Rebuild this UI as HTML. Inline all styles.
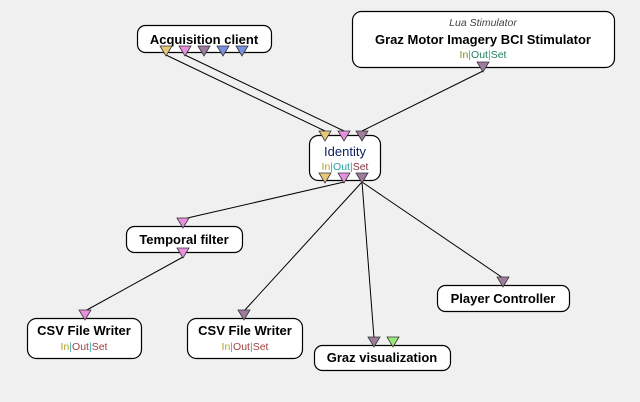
<!DOCTYPE html>
<html><head><meta charset="utf-8"><style>
html,body{margin:0;padding:0;background:#f0f0f0;}
svg{display:block;font-family:"Liberation Sans",sans-serif;}
.t{font-weight:bold;font-size:13px;fill:#000;text-anchor:middle;}
.s{font-size:10.5px;text-anchor:middle;}
</style></head><body>
<svg width="640" height="402" viewBox="0 0 640 402">
<rect width="640" height="402" fill="#f0f0f0"/>
<g stroke="#000" stroke-width="1" fill="none">
<line x1="166" y1="55" x2="325" y2="131"/>
<line x1="185" y1="55" x2="344" y2="131"/>
<line x1="483" y1="71" x2="362" y2="131"/>
<line x1="344" y1="182" x2="183" y2="219"/>
<line x1="362" y1="182" x2="244" y2="311"/>
<line x1="362" y1="182" x2="374" y2="338"/>
<line x1="362" y1="182" x2="503" y2="278"/>
<line x1="183" y1="257" x2="85" y2="311"/>
</g>
<g fill="#fff" stroke="#000" stroke-width="1.2">
<rect x="137.5" y="25.5" width="134" height="27" rx="8"/>
<rect x="352.5" y="11.5" width="262" height="56" rx="9"/>
<rect x="309.5" y="135.5" width="71" height="45" rx="9"/>
<rect x="126.5" y="226.5" width="116" height="26" rx="8"/>
<rect x="27.5" y="318.5" width="114" height="40" rx="9"/>
<rect x="187.5" y="318.5" width="115" height="40" rx="9"/>
<rect x="314.5" y="345.5" width="136" height="25" rx="8"/>
<rect x="437.5" y="285.5" width="132" height="26" rx="8"/>
</g>
<text class="t" x="204" y="44">Acquisition client</text>
<text x="483" y="26" style="font-size:10.5px;font-style:italic;text-anchor:middle;fill:#444">Lua Stimulator</text>
<text class="t" x="483" y="44">Graz Motor Imagery BCI Stimulator</text>
<text class="s" x="483" y="58"><tspan fill="#8a8a20">In</tspan><tspan fill="#3aa">|</tspan><tspan fill="#208060">Out</tspan><tspan fill="#3aa">|</tspan><tspan fill="#208060">Set</tspan></text>
<text x="345" y="156" style="font-size:13px;text-anchor:middle;fill:#102060">Identity</text>
<text class="s" x="345" y="170"><tspan fill="#b0a020">In</tspan><tspan fill="#3aa">|</tspan><tspan fill="#20a0a0">Out</tspan><tspan fill="#3aa">|</tspan><tspan fill="#803040">Set</tspan></text>
<text class="t" x="184" y="244">Temporal filter</text>
<text class="t" x="84" y="335">CSV File Writer</text>
<text class="s" x="84" y="350"><tspan fill="#b0a020">In</tspan><tspan fill="#3aa">|</tspan><tspan fill="#a04040">Out</tspan><tspan fill="#3aa">|</tspan><tspan fill="#a04040">Set</tspan></text>
<text class="t" x="245" y="335">CSV File Writer</text>
<text class="s" x="245" y="350"><tspan fill="#b0a020">In</tspan><tspan fill="#3aa">|</tspan><tspan fill="#a04040">Out</tspan><tspan fill="#3aa">|</tspan><tspan fill="#a04040">Set</tspan></text>
<text class="t" x="382" y="362">Graz visualization</text>
<text class="t" x="503" y="303">Player Controller</text>
<g stroke="#333" stroke-width="0.8">
<path d="M160,46h12l-6,10z" fill="#e8c878"/>
<path d="M179,46h12l-6,10z" fill="#e890e0"/>
<path d="M198,46h12l-6,10z" fill="#a07c9c"/>
<path d="M217,46h12l-6,10z" fill="#7890e0"/>
<path d="M236,46h12l-6,10z" fill="#7890e0"/>
<path d="M477,62h12l-6,10z" fill="#a07c9c"/>
<path d="M319,131h12l-6,10z" fill="#e8c878"/>
<path d="M338,131h12l-6,10z" fill="#e890e0"/>
<path d="M356,131h12l-6,10z" fill="#a07c9c"/>
<path d="M319,173h12l-6,10z" fill="#e8c878"/>
<path d="M338,173h12l-6,10z" fill="#e890e0"/>
<path d="M356,173h12l-6,10z" fill="#a07c9c"/>
<path d="M177,218h12l-6,10z" fill="#e890e0"/>
<path d="M177,248h12l-6,10z" fill="#e890e0"/>
<path d="M79,310h12l-6,10z" fill="#e890e0"/>
<path d="M238,310h12l-6,10z" fill="#a07c9c"/>
<path d="M368,337h12l-6,10z" fill="#a07c9c"/>
<path d="M387,337h12l-6,10z" fill="#98e878"/>
<path d="M497,277h12l-6,10z" fill="#a07c9c"/>
</g>
</svg>
</body></html>
